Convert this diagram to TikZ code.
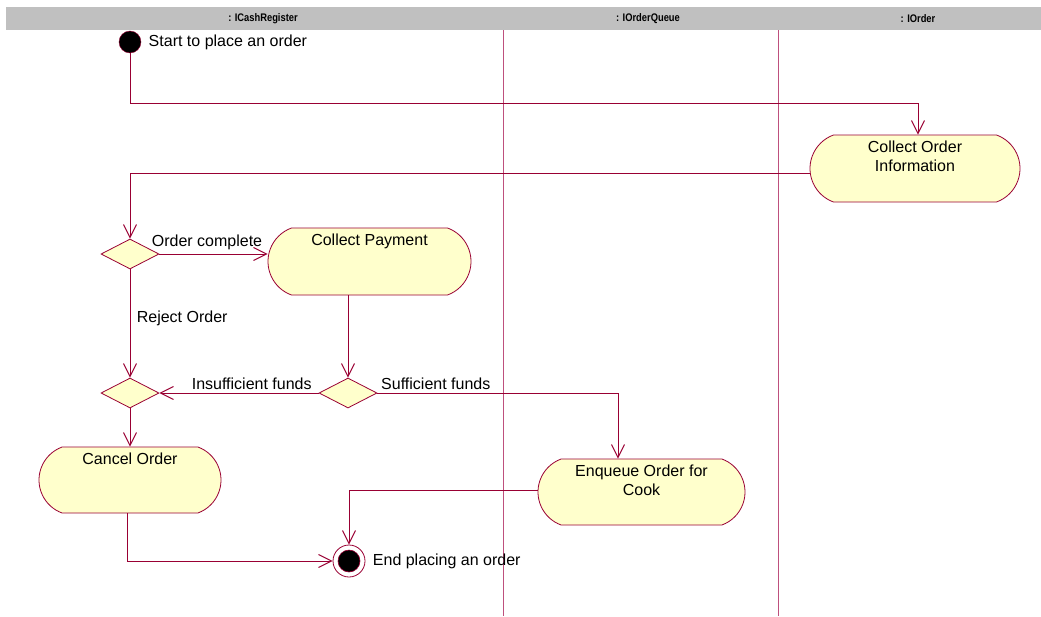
\documentclass[tikz,border=0pt]{standalone}
\usepackage{fontspec}
\setmainfont{Liberation Sans}
\usetikzlibrary{positioning,shapes.geometric,shapes.misc,arrows.meta}

\definecolor{umlrot}{RGB}{153,0,51}
\definecolor{umlgelb}{RGB}{255,255,204}
\definecolor{bahnlinie}{RGB}{190,80,125}
\definecolor{kopfgrau}{RGB}{192,192,192}

\tikzset{
	aktivitaet/.style={rounded rectangle, rounded rectangle arc length=140, draw=umlrot, fill=umlgelb, line width=0.8pt, inner sep=0pt},
	entscheidung/.style={diamond, draw=umlrot, fill=umlgelb, line width=0.8pt, minimum width=58pt, minimum height=30pt, inner sep=0pt},
	fluss/.style={draw=umlrot, line width=1pt, -{Straight Barb[length=13pt,width=13pt,line width=1pt]}},
	beschriftung/.style={font=\fontsize{16}{19}\selectfont, text=black, align=center},
	kopftext/.style={font=\fontsize{11}{12}\selectfont\bfseries, text=black},
}

\begin{document}
\begin{tikzpicture}[x=1pt,y=-1pt]
	\useasboundingbox (0,0) rectangle (1041,616);
	
	% Kopfzeile der Schwimmbahnen
	\fill[kopfgrau] (6,7) rectangle (1041,30);
	\foreach \name/\x in {ICashRegister/263,IOrderQueue/648,IOrder/918} {
		\node[kopftext] (kopf\name) at (\x,18.5) {\scalebox{0.85}[1]{: \name}};
	}
	
	% Trennlinien der Bahnen
	\foreach \x in {503.5,778} {
		\draw[bahnlinie, line width=1pt] (\x,30) -- (\x,616);
	}
	
	% Start und Ende
	\node[circle, fill=black, draw=umlrot, minimum size=22pt, inner sep=0pt] (start) at (130,42) {};
	\node[beschriftung, right=4pt of start] (startlabel) {Start to place an order};
	\node[circle, fill=white, draw=umlrot, line width=0.8pt, minimum size=32pt, inner sep=0pt] (stopp) at (349,561) {};
	\node[circle, fill=black, draw=umlrot, line width=0.6pt, minimum size=22pt, inner sep=0pt] (stoppkern) at (stopp) {};
	\node[beschriftung, right=4pt of stopp] (stopplabel) {End placing an order};
	
	% Aktivitaeten
	\node[aktivitaet, minimum width=210pt, minimum height=67pt,
		label={[beschriftung, anchor=north, yshift=-3pt]north:Collect Order\\Information}] (coi) at (915,168.5) {};
	\node[aktivitaet, minimum width=203pt, minimum height=67pt,
		label={[beschriftung, anchor=north, yshift=-3pt]north:Collect Payment}] (cp) at (369.5,261.5) {};
	\node[aktivitaet, minimum width=182pt, minimum height=66pt,
		label={[beschriftung, anchor=north, yshift=-3pt]north:Cancel Order}] (co) at (130,480) {};
	\node[aktivitaet, minimum width=207pt, minimum height=66pt,
		label={[beschriftung, anchor=north, yshift=-3pt]north:Enqueue Order for\\Cook}] (eoc) at (641.5,492) {};
	
	% Entscheidungen
	\node[entscheidung] (d1) at (130,254) {};
	\node[entscheidung] (d2) at (130,393) {};
	\node[entscheidung] (d3) at (348,393) {};
	
	% Kontrollfluss
	\draw[fluss] (start.south) -- ++(0,50) -| ([xshift=3pt]coi.north);
	\draw[fluss] ([yshift=-4.5pt]coi.west) -| (d1.north);
	\draw[fluss] (d1.east) -- node[beschriftung, above, pos=0.44] {Order complete} (d1.east -| cp.west);
	\draw[fluss] (d1.south) -- node[beschriftung, right, pos=0.45, xshift=3pt] {Reject Order} (d2.north);
	\draw[fluss] (d3.north |- cp.south) -- (d3.north);
	\draw[fluss] (d3.west) -- node[beschriftung, above, pos=0.42] {Insufficient funds} (d2.east);
	\draw[fluss] (d3.east) node[beschriftung, above right] {Sufficient funds} -| ([xshift=-23.5pt]eoc.north);
	\draw[fluss] (d2.south) -- (co.north);
	\draw[fluss] ([yshift=2pt]eoc.west) -| (stopp.north);
	\draw[fluss] ([xshift=-3pt]co.south) |- (stopp.west);
\end{tikzpicture}
\end{document}
